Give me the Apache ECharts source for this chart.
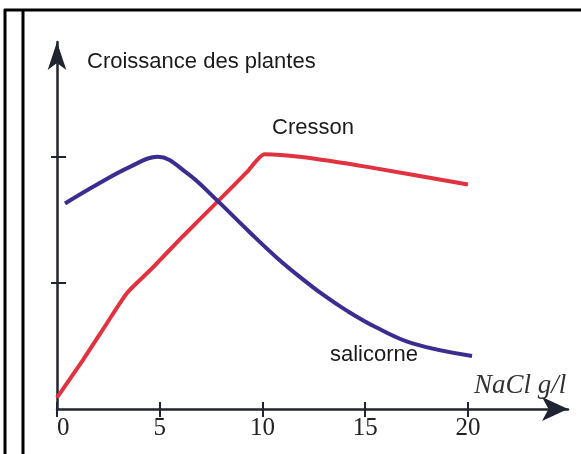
<!DOCTYPE html>
<html>
<head>
<meta charset="utf-8">
<script src="https://cdn.jsdelivr.net/npm/echarts@6/dist/echarts.min.js"></script>
<style>
  html, body { margin: 0; padding: 0; background: #fff; }
  #chart { width: 581px; height: 454px; }
</style>
</head>
<body>
<div id="chart"></div>
<script>
// x ticks (NaCl g/l) and y ticks (unlabelled)
var xTicks = [0, 5, 10, 15, 20];
var yTicks = [1, 2];

// cresson : [NaCl, croissance]
var cresson = [
    [0, 0.09], [1.27, 0.39], [2.43, 0.68], [3.41, 0.92], [4.53, 1.10],
    [6.13, 1.37], [7.79, 1.64], [9.25, 1.88], [10.1, 2.02], [11.8, 2.0],
    [15.1, 1.92], [20, 1.78]
];

// salicorne
var salicorne = [
    [0.39, 1.63], [1.95, 1.78], [3.55, 1.92], [4.9, 2.0],
    [6.33, 1.87], [7.69, 1.67], [9.39, 1.40], [10.7, 1.20], [11.8, 1.05],
    [13.0, 0.90], [14.1, 0.78], [15.5, 0.65], [17.3, 0.52], [20.2, 0.42]
];

var myChart = echarts.init(document.getElementById('chart'));

var axisCol = '#1f2430';
var sansTxt = { fontFamily: 'Liberation Sans', fontWeight: 'normal', fontSize: 22, color: '#1a1a1a' };

var option = {
    backgroundColor: '#fff',
    animation: false,
    grid: { left: 57, right: 13, top: 42, bottom: 45 },
    title: [
        { text: 'Croissance des plantes', left: 82, top: 46, textStyle: sansTxt },
        { text: 'Cresson', left: 267, top: 112, textStyle: sansTxt },
        { text: 'salicorne', left: 325, top: 339, textStyle: sansTxt },
        { text: 'NaCl g/l', left: 469, top: 367,
          textStyle: { fontFamily: 'Liberation Serif', fontStyle: 'italic', fontWeight: 'normal', fontSize: 27, color: '#333' } }
    ],
    xAxis: [
        {
            type: 'value', min: 0, max: 24.87,
            axisLine: { show: true, symbol: ['none', 'arrow'], symbolSize: [18, 26],
                        lineStyle: { color: axisCol, width: 2.5 } },
            axisTick: { show: true, inside: false, length: 8, customValues: xTicks,
                        lineStyle: { color: axisCol, width: 2 } },
            axisLabel: { show: true, customValues: xTicks, margin: 7, alignMinLabel: 'left',
                         fontFamily: 'Liberation Serif', fontSize: 25, color: '#222' },
            splitLine: { show: false }
        },
        {
            type: 'value', min: 0, max: 24.87, position: 'bottom',
            axisLine: { show: false },
            axisTick: { show: true, inside: true, length: 7, customValues: xTicks,
                        lineStyle: { color: axisCol, width: 2 } },
            axisLabel: { show: false },
            splitLine: { show: false }
        }
    ],
    yAxis: [
        {
            type: 'value', min: 0, max: 2.91,
            axisLine: { show: true, symbol: ['none', 'arrow'], symbolSize: [14, 28],
                        lineStyle: { color: axisCol, width: 2.5 } },
            axisTick: { show: true, inside: false, length: 6, customValues: yTicks,
                        lineStyle: { color: axisCol, width: 2 } },
            axisLabel: { show: false },
            splitLine: { show: false }
        },
        {
            type: 'value', min: 0, max: 2.91, position: 'left',
            axisLine: { show: false },
            axisTick: { show: true, inside: true, length: 9, customValues: yTicks,
                        lineStyle: { color: axisCol, width: 2 } },
            axisLabel: { show: false },
            splitLine: { show: false }
        }
    ],
    series: [
        {
            name: 'Cresson', type: 'line', data: cresson, smooth: 0.2,
            showSymbol: false, symbol: 'none',
            lineStyle: { color: '#e0323f', width: 4 }
        },
        {
            name: 'salicorne', type: 'line', data: salicorne, smooth: 0.4,
            showSymbol: false, symbol: 'none',
            lineStyle: { color: '#3a2d8f', width: 4 }
        }
    ],
    graphic: [
        // cadre
        { type: 'line', shape: { x1: 4, y1: 10, x2: 581, y2: 10 }, style: { stroke: '#000', lineWidth: 3 } },
        { type: 'line', shape: { x1: 5, y1: 9, x2: 5, y2: 454 }, style: { stroke: '#000', lineWidth: 3 } },
        { type: 'line', shape: { x1: 23, y1: 10, x2: 23, y2: 454 }, style: { stroke: '#000', lineWidth: 3 } }
    ]
};

myChart.setOption(option);
</script>
</body>
</html>
